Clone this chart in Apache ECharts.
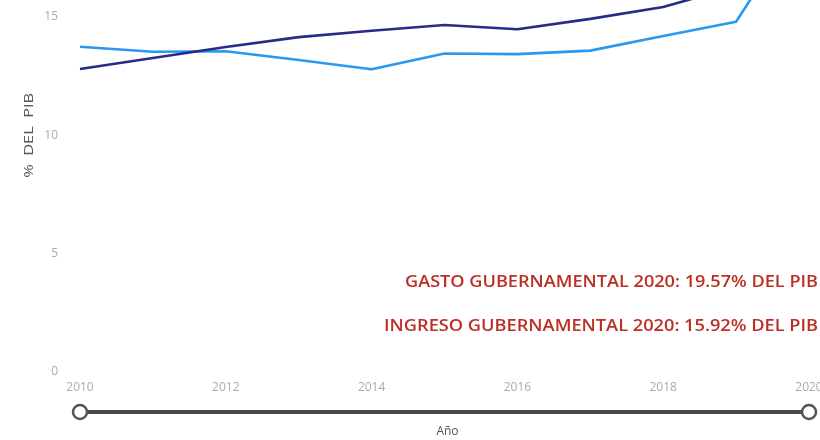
<!DOCTYPE html>
<html>
<head>
<meta charset="utf-8">
<script src="https://cdn.jsdelivr.net/npm/echarts@6/dist/echarts.min.js"></script>
<style>
html,body{margin:0;padding:0;background:#fff;}
#main{width:820px;height:440px;}
</style>
</head>
<body>
<div id="main"></div>
<script>
// Data (% of GDP)
var years = [2010, 2011, 2012, 2013, 2014, 2015, 2016, 2017, 2018, 2019, 2020];
var gasto = [13.74, 13.53, 13.55, 13.18, 12.79, 13.46, 13.43, 13.58, 14.20, 14.80, 19.57];
var ingreso = [12.80, 13.27, 13.73, 14.15, 14.42, 14.66, 14.48, 14.92, 15.42, 16.30, 15.92];
var yTicks = [0, 5, 10, 15];
var xTicks = [2010, 2012, 2014, 2016, 2018, 2020];
var note1 = 'GASTO GUBERNAMENTAL 2020: 19.57% DEL PIB';
var note2 = 'INGRESO GUBERNAMENTAL 2020: 15.92% DEL PIB';
var yTitle = '%  DEL  PIB';
var xTitle = 'Año';

function pairs(vals) { return years.map(function (y, i) { return [y, vals[i]]; }); }

var fontName = '"Open Sans", "Noto Sans", sans-serif';
var ctx = document.createElement('canvas').getContext('2d');
function measure(text, size, weight) {
  ctx.font = (weight || 'normal') + ' ' + size + 'px ' + fontName;
  return ctx.measureText(text).width;
}

var chart = echarts.init(document.getElementById('main'), null, {renderer: 'canvas'});
chart.setOption({
  animation: false,
  grid: {left: 80, right: 11, top: 17, bottom: 68, containLabel: false, outerBoundsMode: 'none'},
  xAxis: {
    type: 'value', min: xTicks[0], max: xTicks[xTicks.length - 1], interval: 2,
    axisLine: {show: false}, axisTick: {show: false}, splitLine: {show: false},
    axisLabel: {color: '#ababab', fontSize: 12, fontFamily: fontName, margin: 10,
      formatter: function (v) { return String(v); }}
  },
  yAxis: {
    type: 'value', min: yTicks[0], max: yTicks[yTicks.length - 1], interval: 5,
    axisLine: {show: false}, axisTick: {show: false}, splitLine: {show: false},
    axisLabel: {color: '#ababab', fontSize: 12, fontFamily: fontName, margin: 22}
  },
  series: [
    {name: 'Gasto', type: 'line', data: pairs(gasto), clip: false, showSymbol: false,
      lineStyle: {color: '#2899ee', width: 2.6}, itemStyle: {color: '#2899ee'}},
    {name: 'Ingreso', type: 'line', data: pairs(ingreso), clip: false, showSymbol: false,
      lineStyle: {color: '#282a86', width: 2.6}, itemStyle: {color: '#282a86'}}
  ]
});

var x0 = chart.convertToPixel({xAxisIndex: 0}, years[0]);
var x1 = chart.convertToPixel({xAxisIndex: 0}, years[years.length - 1]);
var yMid = chart.convertToPixel({yAxisIndex: 0}, 10);
var sy = 412;
var nSize = 16;
var n1Scale = 413 / measure(note1, nSize, 600);
var n2Scale = 434 / measure(note2, nSize, 600);
var tSize = 13;
var tScale = 85 / measure(yTitle, tSize, 'normal');
chart.setOption({
  graphic: [
    {type: 'line', shape: {x1: x0, y1: sy, x2: x1, y2: sy}, style: {stroke: '#4a4a4a', lineWidth: 4}, z: 10},
    {type: 'circle', shape: {cx: x0, cy: sy, r: 7}, style: {fill: '#fff', stroke: '#555', lineWidth: 2.5}, z: 11},
    {type: 'circle', shape: {cx: x1, cy: sy, r: 7}, style: {fill: '#fff', stroke: '#555', lineWidth: 2.5}, z: 11},
    {type: 'text', x: (x0 + x1) / 2 + 3, y: 432, style: {text: xTitle, fill: '#555', fontSize: 12, fontFamily: fontName, align: 'center', verticalAlign: 'middle'}, z: 11},
    {type: 'text', x: 818, y: 282, scaleX: n1Scale, style: {text: note1, fill: '#BC2F25', fontSize: nSize, fontWeight: 600, fontFamily: fontName, align: 'right', verticalAlign: 'middle'}, z: 11},
    {type: 'text', x: 818, y: 326, scaleX: n2Scale, style: {text: note2, fill: '#BC2F25', fontSize: nSize, fontWeight: 600, fontFamily: fontName, align: 'right', verticalAlign: 'middle'}, z: 11},
    {type: 'text', x: 29, y: yMid, rotation: Math.PI / 2, scaleX: tScale, style: {text: yTitle, fill: '#555', fontSize: tSize, fontFamily: fontName, align: 'center', verticalAlign: 'middle'}, z: 11}
  ]
});
</script>
</body>
</html>
